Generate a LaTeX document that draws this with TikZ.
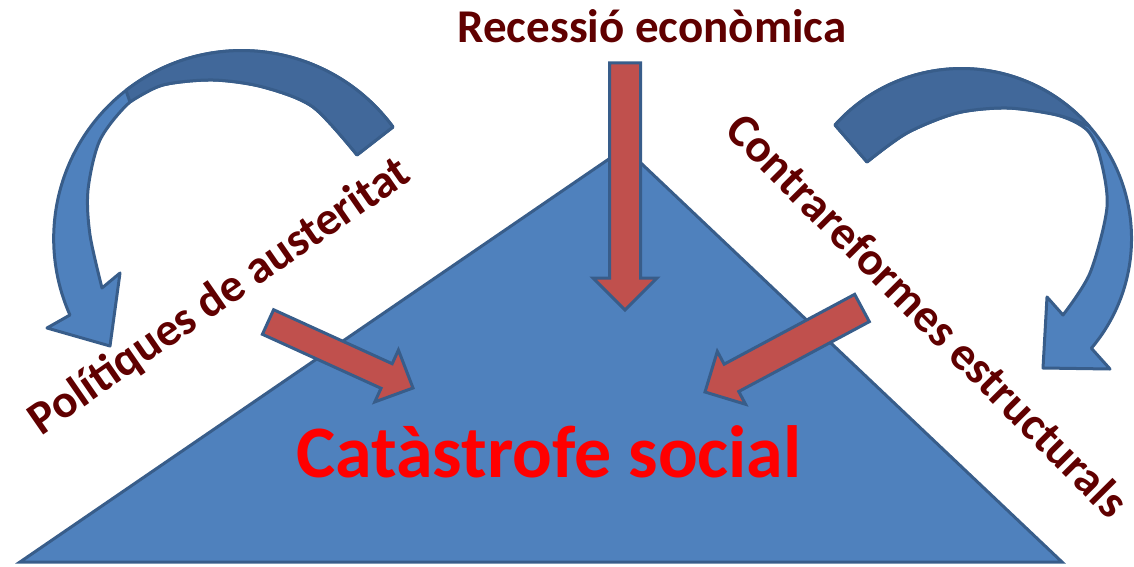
\documentclass[tikz,border=0pt]{standalone}
\usepackage{fontspec}
\setmainfont{Carlito}
\usepackage{tikz}
\usetikzlibrary{calc}

\begin{document}
\begin{tikzpicture}[x=1pt,y=-1pt,
		blueshape/.style={fill=cfblue,draw=cvblue,line width=3pt,line join=round},
		backband/.style={fill=cfback,draw=cvblue,line width=3pt,line join=round},
		redarrow/.style={fill=cfred,draw=cvblue,line width=3pt,line join=miter},
		sidelabel/.style={text=clmaroon,font=\bfseries\fontsize{47}{50}\selectfont,inner sep=0pt},
		biglabel/.style={text=clred,font=\bfseries\fontsize{74}{78}\selectfont,inner sep=0pt}]
					\definecolor{cfblue}{rgb}{0.310,0.506,0.741}
					\definecolor{cfback}{rgb}{0.255,0.408,0.604}
					\definecolor{cvblue}{rgb}{0.220,0.365,0.541}
					\definecolor{cfred}{rgb}{0.753,0.314,0.302}
					\definecolor{clmaroon}{rgb}{0.376,0.0,0.0}
					\definecolor{clred}{rgb}{1.0,0.0,0.0}
					\useasboundingbox (0,0) rectangle (1134,567);
					%
					% curved arrows
					\draw[blueshape] (393,127) arc[start angle=-36.4,end angle=-204,radius=188]
						-- (47,328) -- (110,346) -- (120,273) -- (102,288)
						-- plot[smooth] coordinates {(102,288) (90,235) (88,190) (100,140) (130,102) (163,85) (213,80) (263,87) (313,107) (357,155)}
						-- cycle;
					\draw[backband] (393,127) arc[start angle=-36.4,end angle=-128,radius=188]
						-- plot[smooth] coordinates {(130,102) (163,85) (213,80) (263,87) (313,107) (357,155)}
						-- cycle;
					\draw[blueshape] (835,125) arc[start angle=-138.1,end angle=40.2,radius=170]
						-- (1110,369) -- (1043,368) -- (1047,297) -- (1063,315)
						-- plot[smooth] coordinates {(1063,315) (1090,273) (1107,207) (1100,157) (1087,130) (1057,115) (1007,108) (957,113) (907,133) (867,162)}
						-- cycle;
					\draw[backband] (835,125) arc[start angle=-138.1,end angle=-42,radius=170]
						-- plot[smooth] coordinates {(1089,126) (1057,115) (1007,108) (957,113) (907,133) (867,162)}
						-- cycle;
					%
					% triangle
					\coordinate (tl) at (20,562);
					\coordinate (tt) at (625,148);
					\coordinate (tr) at (1062,562);
					\draw[blueshape,line join=miter] (tl) -- (tt) -- (tr) -- cycle;
					%
					% labels
					\node[sidelabel,anchor=base] (rec) at (652,43) {Recessió econòmica};
					\node[sidelabel,rotate=34.7] (pol) at (220,297) {Polítiques de austeritat};
					\node[sidelabel,rotate=-45.2] (con) at (928,315) {Contrareformes estructurals};
					\node[biglabel,anchor=base] (cat) at (549,477) {Catàstrofe social};
					%
					% red arrows
					\coordinate (at) at (625,63);
					\coordinate (ah) at (625,310);
					\coordinate (ab) at ($(ah)!32pt!(at)$);
					\draw[redarrow] ($(at)!15.5pt!90:(ah)$) -- ($(ab)!15.5pt!90:(ah)$) -- ($(ab)!32pt!90:(ah)$) -- (ah)
						-- ($(ab)!32pt!270:(ah)$) -- ($(ab)!15.5pt!270:(ah)$) -- ($(at)!15.5pt!270:(ah)$) -- cycle;
					\coordinate (lt) at (268,322);
					\coordinate (lh) at (413,388);
					\coordinate (lb) at ($(lh)!29pt!(lt)$);
					\draw[redarrow] ($(lt)!13.5pt!90:(lh)$) -- ($(lb)!13.5pt!90:(lh)$) -- ($(lb)!28.5pt!90:(lh)$) -- (lh)
						-- ($(lb)!28.5pt!270:(lh)$) -- ($(lb)!13.5pt!270:(lh)$) -- ($(lt)!13.5pt!270:(lh)$) -- cycle;
					\coordinate (rt) at (862,308);
					\coordinate (rh) at (705,392);
					\coordinate (rb) at ($(rh)!30pt!(rt)$);
					\draw[redarrow] ($(rt)!15.5pt!90:(rh)$) -- ($(rb)!15.5pt!90:(rh)$) -- ($(rb)!30pt!90:(rh)$) -- (rh)
						-- ($(rb)!30pt!270:(rh)$) -- ($(rb)!15.5pt!270:(rh)$) -- ($(rt)!15.5pt!270:(rh)$) -- cycle;
					%
				\end{tikzpicture}
\end{document}
